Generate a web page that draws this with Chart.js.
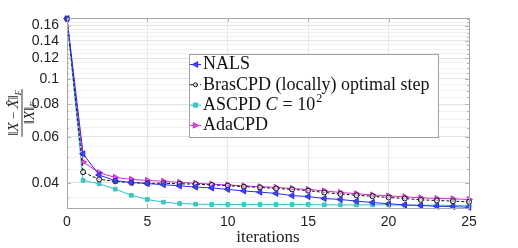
<!DOCTYPE html>
<html>
<head>
<meta charset="utf-8">
<script src="https://cdn.jsdelivr.net/npm/chart.js@4/dist/chart.umd.min.js"></script>
<style>
  html, body { margin: 0; padding: 0; background: #fff; }
  #wrap { width: 518px; height: 248px; }
</style>
</head>
<body>
<div id="wrap"><canvas id="c" width="518" height="248"></canvas></div>
<script>
const iterations = [0,1,2,3,4,5,6,7,8,9,10,11,12,13,14,15,16,17,18,19,20,21,22,23,24,25]
const nals  = [0.170,0.0516,0.0428,0.0407,0.0401,0.0397,0.0393,0.0389,0.0385,0.0382,0.0377,0.0372,0.0368,0.0364,0.0357,0.0354,0.0348,0.0345,0.0340,0.0336,0.0332,0.0329,0.0327,0.0325,0.0324,0.0322]
const bras  = [0.170,0.0439,0.0412,0.0405,0.0400,0.0398,0.0398,0.0396,0.0395,0.0392,0.0390,0.0386,0.0384,0.0380,0.0377,0.0373,0.0367,0.0362,0.0358,0.0355,0.0351,0.0348,0.0344,0.0342,0.0340,0.0338]
const ascpd = [0.170,0.0408,0.0396,0.0378,0.0358,0.0345,0.0337,0.0333,0.0331,0.0330,0.0330,0.0330,0.0330,0.0330,0.0330,0.0330,0.0329,0.0329,0.0329,0.0329,0.0329,0.0328,0.0328,0.0328,0.0327,0.0327]
const ada   = [0.170,0.0480,0.0437,0.0419,0.0412,0.0408,0.0405,0.0401,0.0398,0.0395,0.0392,0.0389,0.0386,0.0384,0.0380,0.0377,0.0372,0.0367,0.0363,0.0359,0.0356,0.0353,0.0350,0.0348,0.0347,0.0345]

const yMajor = [0.04,0.06,0.08,0.1,0.12,0.14,0.16]
const yMinor = [0.035,0.04,0.045,0.05,0.055,0.06,0.065,0.07,0.075,0.08,0.085,0.09,0.095,0.1,0.105,0.11,0.115,0.12,0.125,0.13,0.135,0.14,0.145,0.15,0.155,0.16,0.165,0.17]
const xTicks = [0,5,10,15,20,25]

const serif = '"Liberation Serif", "DejaVu Serif", serif'
const sans = '"Liberation Sans", Arial, sans-serif'

const pts = arr => iterations.map((x, i) => ({ x, y: arr[i] }))
const isMajor = v => yMajor.some(m => Math.abs(m - v) < 1e-6)

const series = [
  { label: 'NALS', data: pts(nals), borderColor: '#2a2aee', backgroundColor: '#4646f0', pointStyle: 'triangle', rotation: 270, pointRadius: 3.5, borderDash: [] },
  { label: 'BrasCPD (locally) optimal step', data: pts(bras), borderColor: '#111', backgroundColor: 'rgba(255,255,255,0.6)', pointStyle: 'circle', rotation: 0, pointRadius: 2.5, borderDash: [3, 2] },
  { label: 'ASCPD', data: pts(ascpd), borderColor: '#33c2c2', backgroundColor: '#40c8c8', pointStyle: 'rect', rotation: 0, pointRadius: 2.6, borderDash: [] },
  { label: 'AdaCPD', data: pts(ada), borderColor: '#d02ad0', backgroundColor: '#dd55dd', pointStyle: 'triangle', rotation: 90, pointRadius: 3.5, borderDash: [] }
]

function marker(ctx, s, x, y, scale) {
  ctx.save()
  ctx.translate(x, y)
  ctx.rotate(s.rotation * Math.PI / 180)
  ctx.fillStyle = s.backgroundColor
  ctx.strokeStyle = s.borderColor
  ctx.lineWidth = 1
  ctx.setLineDash([])
  const r = s.pointRadius * scale
  ctx.beginPath()
  if (s.pointStyle === 'circle') ctx.arc(0, 0, r, 0, Math.PI * 2)
  else if (s.pointStyle === 'rect') ctx.rect(-r, -r, 2 * r, 2 * r)
  else { ctx.moveTo(0, -r * 1.1); ctx.lineTo(r, r * 0.8); ctx.lineTo(-r, r * 0.8); ctx.closePath() }
  ctx.fill()
  ctx.stroke()
  ctx.restore()
}

const decor = {
  id: 'decor',
  afterDraw(chart) {
    const { ctx, chartArea: a, scales } = chart
    ctx.save()
    // inward ticks
    ctx.strokeStyle = '#b4b4b4'
    ctx.lineWidth = 1
    yMinor.forEach(v => {
      const y = Math.round(scales.y.getPixelForValue(v)) + 0.5
      const len = isMajor(v) ? 4 : 2
      ctx.beginPath(); ctx.moveTo(a.left, y); ctx.lineTo(a.left + len, y)
      ctx.moveTo(a.right, y); ctx.lineTo(a.right - len, y); ctx.stroke()
    })
    xTicks.forEach(v => {
      const x = Math.round(scales.x.getPixelForValue(v)) + 0.5
      ctx.beginPath(); ctx.moveTo(x, a.bottom); ctx.lineTo(x, a.bottom - 4)
      ctx.moveTo(x, a.top); ctx.lineTo(x, a.top + 4); ctx.stroke()
    })
    // frame
    ctx.strokeStyle = '#a8a8a8'
    ctx.strokeRect(a.left + 0.5, a.top + 0.5, a.right - a.left, a.bottom - a.top)

    // legend
    const lx = 189.5, ly = 54.5, lw = 249, lh = 83
    ctx.fillStyle = '#fff'
    ctx.fillRect(lx, ly, lw, lh)
    ctx.strokeStyle = '#a0a0a0'
    ctx.strokeRect(lx, ly, lw, lh)
    const lf = '18px ' + serif
    ctx.font = lf
    ctx.textBaseline = 'middle'
    series.forEach((s, i) => {
      const y = 64.5 + i * 20.3
      ctx.strokeStyle = s.borderColor
      ctx.lineWidth = 1
      ctx.setLineDash(s.borderDash)
      ctx.beginPath(); ctx.moveTo(190, y); ctx.lineTo(201, y); ctx.stroke()
      ctx.setLineDash([])
      marker(ctx, s, 195.5, y, 0.8)
      ctx.fillStyle = '#111'
      if (s.label === 'ASCPD') {
        let x = 203
        ctx.font = lf
        ctx.fillText('ASCPD ', x, y); x += ctx.measureText('ASCPD ').width
        ctx.font = 'italic ' + lf
        ctx.fillText('C', x, y); x += ctx.measureText('C').width + 5
        ctx.font = lf
        ctx.fillText('= 10', x, y); x += ctx.measureText('= 10').width
        ctx.font = '12px ' + serif
        ctx.fillText('2', x + 1, y - 6)
        ctx.font = lf
      } else {
        ctx.fillText(s.label, 203, y)
      }
    })

    // y title (fraction)
    ctx.translate(22, (a.top + a.bottom) / 2)
    ctx.rotate(-Math.PI / 2)
    ctx.fillStyle = '#222'
    ctx.strokeStyle = '#222'
    ctx.textBaseline = 'alphabetic'
    ctx.textAlign = 'left'
    const num = [['‖', '15px'], ['X', 'italic 15px'], [' − ', '13px'], ['X\u0302', 'italic 15px'], ['‖', '15px']]
    const widthOf = parts => parts.reduce((w, p) => { ctx.font = p[1] + ' ' + serif; return w + ctx.measureText(p[0]).width }, 0)
    let nw = widthOf(num) + 5
    let x = -nw / 2
    num.forEach(p => { ctx.font = p[1] + ' ' + serif; ctx.fillText(p[0], x, -4); x += ctx.measureText(p[0]).width })
    ctx.font = 'italic 8px ' + serif
    ctx.fillText('F', x, -1)
    ctx.lineWidth = 0.9
    ctx.beginPath(); ctx.moveTo(-nw / 2 - 1, 0); ctx.lineTo(nw / 2 + 1, 0); ctx.stroke()
    const den = [['‖', '15px'], ['X', 'italic 15px'], ['‖', '15px']]
    const dw = widthOf(den) + 5
    x = -dw / 2
    den.forEach(p => { ctx.font = p[1] + ' ' + serif; ctx.fillText(p[0], x, 12); x += ctx.measureText(p[0]).width })
    ctx.font = 'italic 8px ' + serif
    ctx.fillText('F', x, 14)
    ctx.restore()
  }
}

new Chart(document.getElementById('c'), {
  type: 'line',
  data: {
    datasets: series.map(s => ({
      label: s.label, data: s.data, borderColor: s.borderColor, backgroundColor: s.backgroundColor,
      borderWidth: 1, borderDash: s.borderDash, pointStyle: s.pointStyle, rotation: s.rotation,
      pointRadius: s.pointRadius, pointBorderWidth: 1, pointBorderColor: s.borderColor,
      pointBackgroundColor: s.backgroundColor, tension: 0, clip: false, fill: false
    }))
  },
  options: {
    responsive: false,
    animation: false,
    layout: { padding: { left: 0, right: 49, top: 18, bottom: 0 } },
    plugins: { legend: { display: false }, tooltip: { enabled: false } },
    scales: {
      x: {
        type: 'linear', min: 0, max: 25,
        afterBuildTicks: sc => { sc.ticks = xTicks.map(v => ({ value: v })) },
        afterFit: sc => { sc.height = 40 },
        grid: { color: '#e6e6e6', drawTicks: false },
        border: { display: false },
        ticks: { font: { family: sans, size: 14 }, color: '#222', padding: 6, maxRotation: 0 },
        title: { display: true, text: 'iterations', font: { family: serif, size: 17 }, color: '#222', padding: { top: 0, bottom: 0 } }
      },
      y: {
        type: 'logarithmic', min: 0.032, max: 0.171,
        afterBuildTicks: sc => { sc.ticks = yMinor.map(v => ({ value: v })) },
        afterFit: sc => { sc.width = 67 },
        grid: { color: c => (c.tick && isMajor(c.tick.value)) ? '#e2e2e2' : '#f0f0f0', drawTicks: false },
        border: { display: false },
        ticks: {
          autoSkip: false, padding: 8, color: '#222', font: { family: sans, size: 14 },
          callback: v => isMajor(v) ? String(Math.round(v * 100) / 100) : ''
        }
      }
    }
  },
  plugins: [decor]
})
</script>
</body>
</html>
